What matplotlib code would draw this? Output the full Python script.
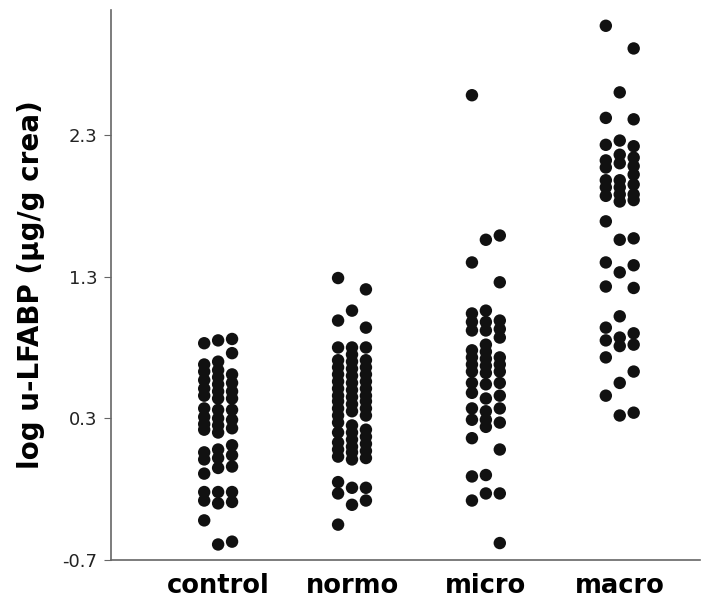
import matplotlib
matplotlib.use("Agg")
import matplotlib.pyplot as plt
import numpy as np

# groups on the x axis
groups = ['control', 'normo', 'micro', 'macro']

# log u-LFABP values, each group split in the three dot columns (left, middle, right)
control = [
    [0.83, 0.68, 0.63, 0.57, 0.51, 0.46, 0.37, 0.31, 0.26, 0.22, 0.06, 0.01,
     -0.09, -0.22, -0.28, -0.42],
    [0.85, 0.70, 0.64, 0.59, 0.54, 0.49, 0.44, 0.36, 0.30, 0.25, 0.20, 0.08,
     0.02, -0.05, -0.22, -0.30, -0.59],
    [0.86, 0.76, 0.61, 0.55, 0.49, 0.44, 0.36, 0.29, 0.23, 0.11, 0.04, -0.04,
     -0.22, -0.29, -0.57],
]
normo = [
    [1.29, 0.99, 0.80, 0.71, 0.66, 0.61, 0.56, 0.51, 0.46, 0.42, 0.37, 0.32,
     0.27, 0.20, 0.13, 0.08, 0.03, -0.15, -0.23, -0.45],
    [1.06, 0.80, 0.75, 0.70, 0.65, 0.60, 0.55, 0.50, 0.45, 0.40, 0.35, 0.25,
     0.20, 0.15, 0.10, 0.06, 0.01, -0.19, -0.31],
    [1.21, 0.94, 0.80, 0.71, 0.66, 0.61, 0.56, 0.51, 0.46, 0.42, 0.37, 0.32,
     0.22, 0.17, 0.12, 0.07, 0.02, -0.19, -0.28],
]
micro = [
    [2.58, 1.40, 1.04, 0.98, 0.92, 0.78, 0.73, 0.68, 0.63, 0.55, 0.48, 0.37,
     0.29, 0.16, -0.11, -0.28],
    [1.56, 1.06, 0.98, 0.92, 0.82, 0.77, 0.72, 0.67, 0.62, 0.54, 0.44, 0.35,
     0.29, 0.24, -0.10, -0.23],
    [1.59, 1.26, 0.99, 0.93, 0.87, 0.73, 0.68, 0.63, 0.55, 0.46, 0.37, 0.27,
     0.08, -0.23, -0.58],
]
macro = [
    [3.07, 2.42, 2.23, 2.12, 2.07, 1.98, 1.93, 1.87, 1.69, 1.40, 1.23, 0.94,
     0.85, 0.73, 0.46],
    [2.60, 2.26, 2.16, 2.10, 1.98, 1.93, 1.88, 1.83, 1.56, 1.33, 1.02, 0.87,
     0.81, 0.55, 0.32],
    [2.91, 2.41, 2.22, 2.14, 2.08, 2.02, 1.95, 1.88, 1.84, 1.57, 1.38, 1.22,
     0.90, 0.82, 0.63, 0.34],
]
yticks = [-0.7, 0.3, 1.3, 2.3]

fig = plt.figure(figsize=(7.14, 5.99), dpi=100)
ax = fig.add_axes([0.1555, 0.065, 0.825, 0.918])

col_offset = 0.104
for i, grp in enumerate([control, normo, micro, macro]):
    for j, col in enumerate(grp):
        x = np.full(len(col), i + (j - 1) * col_offset)
        ax.scatter(x, col, s=80, color='#111111', edgecolors='none', zorder=3)

ax.set_xlim(-0.80, 3.60)
ax.set_ylim(-0.7, 3.18)
ax.set_xticks(range(len(groups)))
ax.set_xticklabels(groups, fontsize=18.5, fontweight='bold')
ax.set_yticks(yticks)
ax.set_yticklabels([f'{t:.1f}' for t in yticks], fontsize=13, color='#222222')
ax.tick_params(axis='x', length=0, pad=9)
ax.tick_params(axis='y', length=5, color='#666666', pad=5)
ax.set_ylabel('log u-LFABP (µg/g crea)', fontsize=20, fontweight='bold',
              labelpad=12)

for side in ['top', 'right']:
    ax.spines[side].set_visible(False)
for side in ['left', 'bottom']:
    ax.spines[side].set_color('#666666')
    ax.spines[side].set_linewidth(1.2)

fig.savefig('out.png', dpi=100)
